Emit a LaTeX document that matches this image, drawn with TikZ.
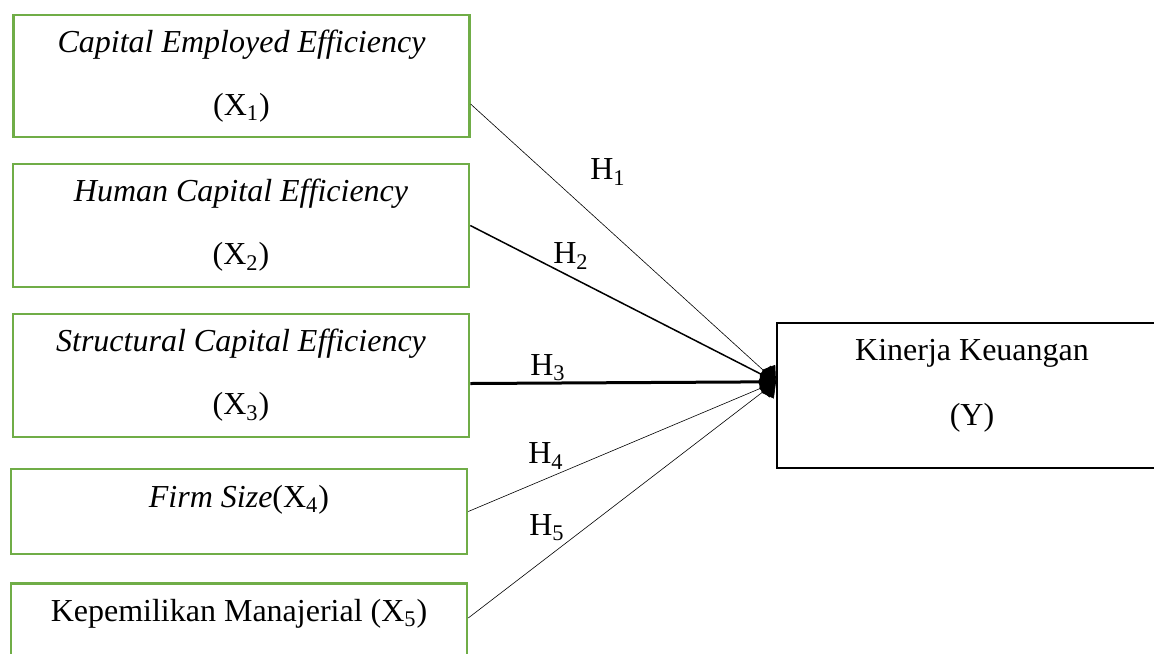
\documentclass[tikz,border=0pt]{standalone}
\usepackage{fontspec}
\setmainfont{Liberation Serif}
\usepackage{tikz}
\usetikzlibrary{arrows.meta}
\definecolor{boxgreen}{RGB}{112,173,71}

\begin{document}
\begin{tikzpicture}[x=0.5pt, y=0.5pt,
	varbox/.style={rectangle, draw=boxgreen, line width=1.25pt, inner sep=0pt, minimum width=228pt, align=center, font=\fontsize{16}{31.5}\selectfont},
	outbox/.style={rectangle, draw=black, line width=1pt, inner sep=0pt, minimum width=195pt, minimum height=72.5pt, align=center, font=\fontsize{16}{32.5}\selectfont},
	hyp/.style={font=\fontsize{16}{19}\selectfont, inner sep=0pt},
	link/.style={-{Kite[length=9pt, width=12pt, inset=3pt]}}]
		\useasboundingbox (0,0) rectangle (1154,-653);
		
		\node (cee) [varbox, minimum height=61pt] at (241.5,-76) {\textit{Capital Employed Efficiency}\\(X\textsubscript{1})};
		
		\node (hce) [varbox, minimum height=61.5pt] at (241,-225.5) {\textit{Human Capital Efficiency}\\(X\textsubscript{2})};
		
		\node (sce) [varbox, minimum height=61.5pt] at (241,-375.5) {\textit{Structural Capital Efficiency}\\(X\textsubscript{3})};
		
		\node (size) [varbox, minimum height=42.5pt, text depth=15.5pt] at (239,-511.5) {\textit{Firm Size}(X\textsubscript{4})};
		
		\node (km) [varbox, minimum height=42.5pt, text depth=15.5pt] at (239,-626) {Kepemilikan Manajerial (X\textsubscript{5})};
		
		\node (kinerja) [outbox, text depth=13.5pt] at (972,-395.5) {Kinerja Keuangan\\(Y)};
		
		\draw [link, line width=0.3pt] (cee.-7.2) to (kinerja.176.9);
		\node (h1) [hyp] at (608,-172) {H\textsubscript{1}};
		\draw [link, line width=0.75pt] (hce.east) to (kinerja.176.9);
		\node (h2) [hyp] at (571,-256) {H\textsubscript{2}};
		\draw [link, line width=1.5pt] (sce.-2.4) to (kinerja.176.9);
		\node (h3) [hyp] at (548,-368) {H\textsubscript{3}};
		\draw [link, line width=0.3pt] (size.east) to (kinerja.176.9);
		\node (h4) [hyp] at (546,-456) {H\textsubscript{4}};
		\draw [link, line width=0.3pt] (km.2.8) to (kinerja.176.9);
		\node (h5) [hyp] at (547,-528) {H\textsubscript{5}};
		
		\end{tikzpicture}
\end{document}
